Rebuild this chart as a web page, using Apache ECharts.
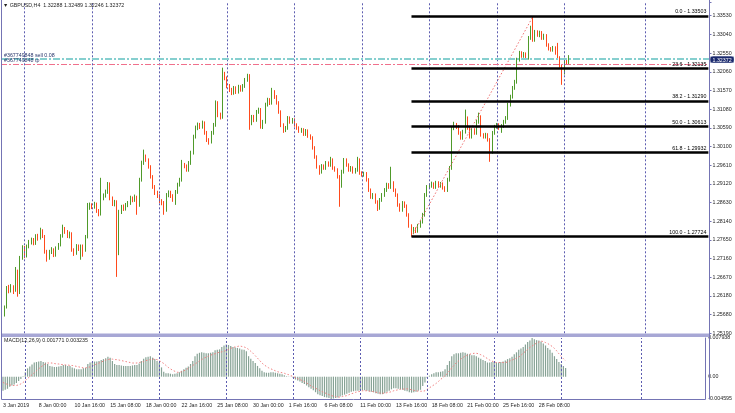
<!DOCTYPE html>
<html><head><meta charset="utf-8">
<script src="https://cdn.jsdelivr.net/npm/echarts@6/dist/echarts.min.js"></script>
<style>html,body{margin:0;padding:0;background:#fff}#c{width:735px;height:413px}</style>
</head><body><div id="c"></div>
<script>
// ---------- data (GBPUSD H4) ----------
const dateLabels = ['3 Jan 2019','8 Jan 00:00','10 Jan 16:00','15 Jan 08:00','18 Jan 00:00','22 Jan 16:00','25 Jan 08:00','30 Jan 00:00','1 Feb 16:00','6 Feb 08:00','11 Feb 00:00','13 Feb 16:00','18 Feb 08:00','21 Feb 00:00','25 Feb 16:00','28 Feb 08:00'];

const opens = [1.2546,1.2567,1.2588,1.2638,1.2630,1.2640,1.2633,1.2680,1.2628,1.2717,
1.2743,1.2722,1.2748,1.2759,1.2764,1.2756,1.2774,1.2769,1.2788,1.2774,
1.2733,1.2717,1.2733,1.2738,1.2725,1.2743,1.2751,1.2774,1.2793,1.2785,
1.2774,1.2780,1.2738,1.2730,1.2748,1.2741,1.2748,1.2738,1.2772,1.2851,
1.2856,1.2851,1.2859,1.2840,1.2832,1.2874,1.2880,1.2890,1.2911,1.2874,
1.2859,1.2864,1.2730,1.2838,1.2851,1.2846,1.2856,1.2861,1.2874,1.2869,
1.2877,1.2856,1.2922,1.2966,1.2982,1.2974,1.2956,1.2930,1.2903,1.2888,
1.2880,1.2867,1.2861,1.2843,1.2882,1.2888,1.2880,1.2869,1.2890,1.2909,
1.2922,1.2961,1.2958,1.2948,1.2966,1.2993,1.3035,1.3058,1.3066,1.3061,
1.3071,1.3045,1.3027,1.3022,1.3045,1.3066,1.3124,1.3092,1.3087,1.3197,
1.3189,1.3168,1.3158,1.3150,1.3163,1.3153,1.3166,1.3158,1.3168,1.3184,
1.3195,1.3071,1.3087,1.3079,1.3100,1.3106,1.3061,1.3074,1.3119,1.3132,
1.3124,1.3153,1.3140,1.3124,1.3100,1.3066,1.3053,1.3058,1.3084,1.3074,
1.3079,1.3066,1.3058,1.3050,1.3053,1.3042,1.3050,1.3037,1.3032,1.3006,
1.2982,1.2956,1.2943,1.2958,1.2953,1.2966,1.2961,1.2974,1.2953,1.2948,
1.2930,1.2906,1.2943,1.2974,1.2961,1.2948,1.2953,1.2943,1.2948,1.2974,
1.2940,1.2935,1.2938,1.2922,1.2895,1.2877,1.2882,1.2864,1.2848,1.2869,
1.2882,1.2895,1.2909,1.2903,1.2914,1.2895,1.2882,1.2856,1.2843,1.2861,
1.2853,1.2830,1.2801,1.2785,1.2793,1.2788,1.2801,1.2812,1.2830,1.2882,
1.2903,1.2906,1.2911,1.2903,1.2914,1.2906,1.2911,1.2901,1.2895,1.2922,
1.2953,1.3058,1.3066,1.3061,1.3045,1.3032,1.3048,1.3084,1.3058,1.3035,
1.3053,1.3045,1.3074,1.3087,1.3040,1.3035,1.3040,1.3027,1.2995,1.3045,
1.3061,1.3066,1.3058,1.3063,1.3074,1.3084,1.3119,1.3140,1.3163,1.3179,
1.3237,1.3255,1.3247,1.3252,1.3242,1.3294,1.3321,1.3289,1.3310,1.3302,
1.3308,1.3294,1.3300,1.3276,1.3266,1.3263,1.3268,1.3255,1.3242,1.3221,
1.3203,1.3237,1.32288];

const closes = [1.2567,1.2588,1.2638,1.2630,1.2640,1.2633,1.2680,1.2628,1.2717,1.2743,
1.2722,1.2748,1.2759,1.2764,1.2756,1.2774,1.2769,1.2788,1.2774,1.2733,
1.2717,1.2733,1.2738,1.2725,1.2743,1.2751,1.2774,1.2793,1.2785,1.2774,
1.2780,1.2738,1.2730,1.2748,1.2741,1.2748,1.2738,1.2772,1.2851,1.2856,
1.2851,1.2859,1.2840,1.2832,1.2874,1.2880,1.2890,1.2911,1.2874,1.2859,
1.2864,1.2730,1.2838,1.2851,1.2846,1.2856,1.2861,1.2874,1.2869,1.2877,
1.2856,1.2922,1.2966,1.2982,1.2974,1.2956,1.2930,1.2903,1.2888,1.2880,
1.2867,1.2861,1.2843,1.2882,1.2888,1.2880,1.2869,1.2890,1.2909,1.2922,
1.2961,1.2958,1.2948,1.2966,1.2993,1.3035,1.3058,1.3066,1.3061,1.3071,
1.3045,1.3027,1.3022,1.3045,1.3066,1.3124,1.3092,1.3087,1.3197,1.3189,
1.3168,1.3158,1.3150,1.3163,1.3153,1.3166,1.3158,1.3168,1.3184,1.3195,
1.3071,1.3087,1.3079,1.3100,1.3106,1.3061,1.3074,1.3119,1.3132,1.3124,
1.3153,1.3140,1.3124,1.3100,1.3066,1.3053,1.3058,1.3084,1.3074,1.3079,
1.3066,1.3058,1.3050,1.3053,1.3042,1.3050,1.3037,1.3032,1.3006,1.2982,
1.2956,1.2943,1.2958,1.2953,1.2966,1.2961,1.2974,1.2953,1.2948,1.2930,
1.2906,1.2943,1.2974,1.2961,1.2948,1.2953,1.2943,1.2948,1.2974,1.2940,
1.2935,1.2938,1.2922,1.2895,1.2877,1.2882,1.2864,1.2848,1.2869,1.2882,
1.2895,1.2909,1.2903,1.2914,1.2895,1.2882,1.2856,1.2843,1.2861,1.2853,
1.2830,1.2801,1.2785,1.2793,1.2788,1.2801,1.2812,1.2830,1.2882,1.2903,
1.2906,1.2911,1.2903,1.2914,1.2906,1.2911,1.2901,1.2895,1.2922,1.2953,
1.3058,1.3066,1.3061,1.3045,1.3032,1.3048,1.3084,1.3058,1.3035,1.3053,
1.3045,1.3074,1.3087,1.3040,1.3035,1.3040,1.3027,1.2995,1.3045,1.3061,
1.3066,1.3058,1.3063,1.3074,1.3084,1.3119,1.3140,1.3163,1.3179,1.3237,
1.3255,1.3247,1.3252,1.3242,1.3294,1.3321,1.3289,1.3310,1.3302,1.3308,
1.3294,1.3300,1.3276,1.3266,1.3263,1.3268,1.3255,1.3242,1.3221,1.3203,
1.3237,1.3229,1.32372];

const highs = [1.2575,1.2592,1.2643,1.2646,1.2648,1.2645,1.2693,1.2686,1.2722,1.2750,
1.2748,1.2752,1.2764,1.2770,1.2769,1.2779,1.2780,1.2796,1.2792,1.2777,
1.2738,1.2738,1.2745,1.2742,1.2747,1.2756,1.2779,1.2804,1.2798,1.2790,
1.2786,1.2784,1.2742,1.2753,1.2752,1.2752,1.2752,1.2777,1.2861,1.2862,
1.2860,1.2864,1.2862,1.2845,1.2927,1.2886,1.2896,1.2916,1.2915,1.2878,
1.2869,1.2868,1.2843,1.2856,1.2857,1.2861,1.2866,1.2880,1.2878,1.2883,
1.2880,1.2927,1.2972,1.3001,1.2988,1.2978,1.2960,1.2934,1.2908,1.2893,
1.2884,1.2871,1.2866,1.2887,1.2894,1.2893,1.2884,1.2895,1.2914,1.2927,
1.2974,1.2966,1.2962,1.2971,1.2998,1.3040,1.3064,1.3072,1.3071,1.3077,
1.3075,1.3050,1.3031,1.3050,1.3071,1.3130,1.3128,1.3098,1.3216,1.3205,
1.3193,1.3173,1.3163,1.3168,1.3167,1.3171,1.3170,1.3173,1.3189,1.3200,
1.3199,1.3092,1.3092,1.3105,1.3111,1.3110,1.3079,1.3124,1.3137,1.3136,
1.3163,1.3157,1.3144,1.3128,1.3104,1.3070,1.3063,1.3089,1.3088,1.3084,
1.3083,1.3070,1.3062,1.3058,1.3057,1.3055,1.3054,1.3041,1.3036,1.3010,
1.2986,1.2960,1.2963,1.2962,1.2971,1.2970,1.2982,1.2978,1.2957,1.2952,
1.2934,1.2948,1.2979,1.2978,1.2965,1.2958,1.2957,1.2953,1.2982,1.2978,
1.2944,1.2943,1.2942,1.2926,1.2899,1.2887,1.2886,1.2868,1.2874,1.2887,
1.2900,1.2914,1.2913,1.2956,1.2918,1.2899,1.2886,1.2860,1.2866,1.2865,
1.2857,1.2834,1.2805,1.2798,1.2797,1.2806,1.2817,1.2835,1.2887,1.2908,
1.2912,1.2917,1.2915,1.2919,1.2918,1.2916,1.2915,1.2905,1.2927,1.2958,
1.3063,1.3074,1.3071,1.3065,1.3049,1.3053,1.3106,1.3088,1.3062,1.3058,
1.3057,1.3079,1.3098,1.3091,1.3044,1.3045,1.3044,1.3031,1.3050,1.3066,
1.3071,1.3070,1.3068,1.3079,1.3089,1.3124,1.3145,1.3168,1.3184,1.3242,
1.3260,1.3259,1.3257,1.3256,1.3299,1.3326,1.33503,1.3315,1.3314,1.3313,
1.3312,1.3305,1.3304,1.3280,1.3270,1.3273,1.3272,1.3281,1.3246,1.3225,
1.3242,1.3241,1.32489];

const lows = [1.2536,1.2563,1.2584,1.2624,1.2626,1.2622,1.2628,1.2615,1.2622,1.2712,
1.2716,1.2718,1.2742,1.2752,1.2750,1.2751,1.2762,1.2765,1.2769,1.2728,
1.2707,1.2712,1.2727,1.2719,1.2720,1.2738,1.2747,1.2770,1.2780,1.2769,
1.2768,1.2733,1.2722,1.2725,1.2735,1.2712,1.2720,1.2733,1.2768,1.2843,
1.2845,1.2846,1.2835,1.2826,1.2828,1.2868,1.2875,1.2885,1.2868,1.2853,
1.2852,1.2667,1.2724,1.2832,1.2840,1.2841,1.2850,1.2856,1.2863,1.2864,
1.2830,1.2851,1.2917,1.2961,1.2969,1.2951,1.2925,1.2898,1.2882,1.2874,
1.2861,1.2855,1.2830,1.2838,1.2876,1.2874,1.2864,1.2856,1.2885,1.2904,
1.2917,1.2952,1.2943,1.2943,1.2961,1.2988,1.3030,1.3052,1.3055,1.3056,
1.3040,1.3021,1.3014,1.3017,1.3040,1.3061,1.3086,1.3080,1.3082,1.3183,
1.3162,1.3152,1.3144,1.3145,1.3147,1.3148,1.3153,1.3153,1.3163,1.3179,
1.3053,1.3065,1.3073,1.3074,1.3095,1.3056,1.3055,1.3069,1.3114,1.3118,
1.3119,1.3134,1.3119,1.3095,1.3060,1.3045,1.3047,1.3053,1.3069,1.3069,
1.3061,1.3053,1.3045,1.3045,1.3037,1.3037,1.3032,1.3027,1.3001,1.2977,
1.2951,1.2935,1.2938,1.2948,1.2948,1.2956,1.2956,1.2948,1.2943,1.2925,
1.2851,1.2901,1.2938,1.2956,1.2943,1.2943,1.2938,1.2938,1.2943,1.2935,
1.2930,1.2930,1.2917,1.2890,1.2872,1.2871,1.2859,1.2840,1.2843,1.2864,
1.2877,1.2890,1.2898,1.2898,1.2890,1.2877,1.2851,1.2838,1.2838,1.2848,
1.2825,1.2796,1.27724,1.2779,1.2782,1.2783,1.2796,1.2807,1.2825,1.2877,
1.2898,1.2901,1.2898,1.2898,1.2901,1.2901,1.2896,1.2890,1.2890,1.2917,
1.2948,1.3052,1.3055,1.3040,1.3027,1.3027,1.3043,1.3053,1.3030,1.3030,
1.3040,1.3040,1.3069,1.3035,1.3030,1.3030,1.3022,1.2969,1.2990,1.3040,
1.3056,1.3053,1.3045,1.3058,1.3069,1.3079,1.3114,1.3135,1.3158,1.3174,
1.3232,1.3242,1.3242,1.3236,1.3237,1.3289,1.3284,1.3284,1.3297,1.3296,
1.3289,1.3289,1.3271,1.3261,1.3258,1.3258,1.3250,1.3237,1.3216,1.3171,
1.3198,1.3224,1.32246];

const macdMain = [-0.0029,-0.0027,-0.0025,-0.0021,-0.0018,-0.0016,-0.0013,-0.0009,-0.0005,0.0001,
0.0009,0.0017,0.0021,0.0025,0.0029,0.0030,0.0031,0.0032,0.0030,0.0029,
0.0026,0.0022,0.0021,0.0020,0.0020,0.0021,0.0022,0.0024,0.0024,0.0022,
0.0022,0.0019,0.0017,0.0015,0.0015,0.0015,0.0017,0.0018,0.0026,0.0029,
0.0030,0.0031,0.0031,0.0032,0.0034,0.0036,0.0038,0.0041,0.0039,0.0032,
0.0026,0.0024,0.0024,0.0023,0.0022,0.0022,0.0022,0.0022,0.0023,0.0024,
0.0024,0.0027,0.0032,0.0037,0.0040,0.0041,0.0042,0.0039,0.0036,0.0032,
0.0029,0.0019,0.0010,0.0007,0.0007,0.0006,0.0005,0.0006,0.0007,0.0009,
0.0012,0.0015,0.0018,0.0021,0.0026,0.0032,0.0042,0.0047,0.0049,0.0050,
0.0049,0.0048,0.0048,0.0049,0.0050,0.0054,0.0055,0.0056,0.0061,0.0064,
0.0066,0.0065,0.0063,0.0061,0.0060,0.0059,0.0058,0.0056,0.0055,0.0052,
0.0042,0.0037,0.0032,0.0028,0.0022,0.0017,0.0012,0.0009,0.0008,0.0008,
0.0009,0.0009,0.0008,0.0007,0.0006,0.0005,0.0003,0.0001,-0.0001,-0.0001,
-0.0003,-0.0006,-0.0008,-0.0010,-0.0013,-0.0015,-0.0018,-0.0022,-0.0025,-0.0028,
-0.0032,-0.0036,-0.0038,-0.0040,-0.0042,-0.0043,-0.0044,-0.004595,-0.0045,-0.0044,
-0.0043,-0.0041,-0.0039,-0.0037,-0.0035,-0.0033,-0.0031,-0.0030,-0.0029,-0.0029,
-0.0028,-0.0028,-0.0028,-0.0029,-0.0030,-0.0031,-0.0032,-0.0034,-0.0035,-0.0036,
-0.0036,-0.0034,-0.0031,-0.0029,-0.0026,-0.0024,-0.0024,-0.0025,-0.0026,-0.0027,
-0.0029,-0.0030,-0.0032,-0.0033,-0.0032,-0.0031,-0.0029,-0.0027,-0.0019,-0.0012,
-0.0003,0.0002,0.0005,0.0007,0.0009,0.0009,0.0010,0.0011,0.0015,0.0024,
0.0032,0.0042,0.0046,0.0048,0.0048,0.0049,0.0050,0.0049,0.0047,0.0046,
0.0044,0.0044,0.0042,0.0039,0.0037,0.0034,0.0032,0.0029,0.0029,0.0030,
0.0030,0.0029,0.0029,0.0030,0.0031,0.0033,0.0036,0.0038,0.0041,0.0046,
0.0050,0.0055,0.0058,0.0061,0.0066,0.0071,0.0074,0.007938,0.0077,0.0075,
0.0074,0.0072,0.0068,0.0064,0.0059,0.0055,0.0049,0.0042,0.0036,0.0030,
0.0026,0.0022,0.001771];

const macdSignal = [-0.0012,-0.0014,-0.0016,-0.0017,-0.0018,-0.0018,-0.0018,-0.0017,-0.0015,-0.0012,
-0.0008,-0.0004,0.0000,0.0004,0.0008,0.0012,0.0016,0.0020,0.0023,0.0026,
0.0028,0.0028,0.0028,0.0027,0.0026,0.0026,0.0025,0.0025,0.0024,0.0024,
0.0023,0.0023,0.0022,0.0021,0.0020,0.0019,0.0018,0.0018,0.0019,0.0020,
0.0022,0.0024,0.0026,0.0028,0.0030,0.0032,0.0034,0.0035,0.0036,0.0036,
0.0035,0.0035,0.0034,0.0033,0.0032,0.0031,0.0030,0.0029,0.0028,0.0028,
0.0028,0.0029,0.0030,0.0031,0.0033,0.0034,0.0035,0.0036,0.0036,0.0035,
0.0033,0.0030,0.0027,0.0023,0.0019,0.0016,0.0013,0.0011,0.0009,0.0009,
0.0010,0.0012,0.0014,0.0017,0.0020,0.0023,0.0026,0.0029,0.0032,0.0035,
0.0038,0.0040,0.0042,0.0044,0.0046,0.0047,0.0049,0.0050,0.0051,0.0052,
0.0054,0.0056,0.0058,0.0060,0.0061,0.0062,0.0063,0.0062,0.0061,0.0059,
0.0056,0.0052,0.0048,0.0043,0.0038,0.0033,0.0028,0.0024,0.0021,0.0018,
0.0016,0.0014,0.0012,0.0010,0.0009,0.0008,0.0007,0.0005,0.0004,0.0002,
0.0000,-0.0002,-0.0004,-0.0006,-0.0008,-0.0010,-0.0013,-0.0016,-0.0019,-0.0022,
-0.0024,-0.0026,-0.0029,-0.0031,-0.0033,-0.0035,-0.0037,-0.0039,-0.0040,-0.0041,
-0.0042,-0.0042,-0.0041,-0.0040,-0.0039,-0.0037,-0.0035,-0.0034,-0.0032,-0.0031,
-0.0030,-0.0029,-0.0029,-0.0029,-0.0030,-0.0030,-0.0031,-0.0032,-0.0033,-0.0034,
-0.0034,-0.0034,-0.0033,-0.0032,-0.0031,-0.0029,-0.0028,-0.0027,-0.0026,-0.0026,
-0.0025,-0.0025,-0.0026,-0.0027,-0.0028,-0.0029,-0.0030,-0.0030,-0.0030,-0.0029,
-0.0026,-0.0023,-0.0020,-0.0017,-0.0014,-0.0010,-0.0006,-0.0002,0.0002,0.0006,
0.0012,0.0018,0.0023,0.0028,0.0032,0.0036,0.0039,0.0042,0.0044,0.0046,
0.0047,0.0048,0.0048,0.0047,0.0045,0.0043,0.0040,0.0037,0.0034,0.0032,
0.0030,0.0029,0.0029,0.0029,0.0029,0.0029,0.0030,0.0032,0.0034,0.0036,
0.0038,0.0040,0.0044,0.0048,0.0052,0.0056,0.0060,0.0063,0.0066,0.0069,
0.0071,0.0073,0.0072,0.0070,0.0068,0.0065,0.0062,0.0058,0.0053,0.0047,
0.0042,0.0037,0.003235];

const priceTickLabels = ['1.25190','1.25680','1.26180','1.26670','1.27160','1.27650','1.28140','1.28630','1.29120','1.29610','1.30100','1.30590','1.31080','1.31570','1.32060','1.32550','1.33040','1.33530'];
const macdTickLabels = ['0.007938','0.00','-0.004595'];
const fibRatios = ['0.0','23.6','38.2','50.0','61.8','100.0'];
const fibPrices = [1.33503,1.32135,1.31290,1.30613,1.29932,1.27724];
const fibAnchorIdx = [182, 236];
const weekSeparators = [10,40,70,100,130,160,190,220,250,286];
const orderPrices = [1.3240, 1.3226];
const orderLabels = ['#367749848 sell 0.08', '#367749848 tp'];
const lastPrice = 1.32372;

// ---------- layout / scale settings ----------
const N_SLOTS = 315;
const Y_MIN = 1.2519, Y_STEP = 0.004902, Y_MAX = 1.33883;
const M_MIN = -0.004595, M_MAX = 0.007938;
const FONT = 'Liberation Sans';
const FS = 5.3;
const TXT = '#1e1e1e';
const FRAME = '#7474b4';
const GRIDC = '#5c5cb0';
const UP = '#4f9a2a', DOWN = '#ff4a1c';

const categories = Array.from({length: N_SLOTS}, (_, i) => String(i));
const candles = opens.map((o, i) => [o, closes[i], lows[i], highs[i]]);
const last = closes.length - 1;
const f5 = v => v.toFixed(5);
const titleText = '\u25BC GBPUSD,H4  ' + [opens[last], highs[last], lows[last], closes[last]].map(f5).join(' ');
const macdText = 'MACD(12,26,9) ' + macdMain[last].toFixed(6) + ' ' + macdSignal[last].toFixed(6);

const sepLines = weekSeparators.map(i => ({xAxis: i, lineStyle: {color: GRIDC, type: [2, 2], width: 1}, label: {show: false}}));
const mainMarks = sepLines.concat([
  {yAxis: orderPrices[0], lineStyle: {color: '#86cfcf', width: 2, type: [7, 2, 2, 2]},
   label: {show: true, position: 'insideStartTop', formatter: orderLabels[0], fontSize: FS, color: '#26346a', distance: [3, 0.5]}},
  {yAxis: orderPrices[1], lineStyle: {color: '#f0708c', width: 1, type: [6, 2, 2, 2]},
   label: {show: true, position: 'insideStartTop', formatter: orderLabels[1], fontSize: FS, color: '#26346a', distance: [3, 0.5]}}
]);

const chart = echarts.init(document.getElementById('c'), null, {renderer: 'canvas', width: 735, height: 413});
chart.setOption({
  animation: false,
  backgroundColor: '#ffffff',
  textStyle: {fontFamily: FONT},
  grid: [
    {left: 1, right: 25.5, top: 2, bottom: 79.7},
    {left: 1, right: 25.5, top: 338, bottom: 14}
  ],
  xAxis: [
    {gridIndex: 0, type: 'category', data: categories, boundaryGap: true,
     axisLine: {show: false, onZero: false}, axisTick: {show: false}, axisLabel: {show: false}, splitLine: {show: false}},
    {gridIndex: 1, type: 'category', data: categories, boundaryGap: true,
     axisLine: {show: true, onZero: false, lineStyle: {color: FRAME}}, axisTick: {show: false},
     axisLabel: {show: true, interval: (idx) => idx % 16 === 0, align: 'left', margin: 4,
       fontSize: FS, color: TXT, fontFamily: FONT,
       formatter: (v, idx) => (idx % 16 === 0 && dateLabels[idx / 16]) ? dateLabels[idx / 16] : ''},
     splitLine: {show: false}}
  ],
  yAxis: [
    {gridIndex: 0, type: 'value', position: 'right', min: Y_MIN, max: Y_MAX, interval: Y_STEP,
     axisLine: {show: true, lineStyle: {color: FRAME}}, axisTick: {show: true, length: 2, lineStyle: {color: FRAME}},
     splitLine: {show: false},
     axisPointer: {show: true, value: lastPrice, status: 'show', type: 'none', triggerTooltip: false,
       label: {show: true, formatter: () => f5(lastPrice), fontSize: FS, fontFamily: FONT, color: '#ffffff',
               backgroundColor: '#1b2a6e', padding: [1, 2, 0, 2], margin: 1}},
     axisLabel: {fontSize: FS, color: TXT, margin: 3, fontFamily: FONT,
       formatter: v => { const k = Math.round((v - Y_MIN) / Y_STEP); return (Math.abs(v - (Y_MIN + k * Y_STEP)) < 1e-6 && priceTickLabels[k]) ? priceTickLabels[k] : ''; }}},
    {gridIndex: 1, type: 'value', position: 'right', min: M_MIN, max: M_MAX, interval: -M_MIN,
     axisLine: {show: true, lineStyle: {color: FRAME}}, axisTick: {show: false},
     splitLine: {show: false},
     axisLabel: {fontSize: FS, color: TXT, margin: 3, fontFamily: FONT,
       formatter: v => { if (Math.abs(v - M_MAX) < 1e-7) return macdTickLabels[0]; if (Math.abs(v) < 1e-7) return macdTickLabels[1]; if (Math.abs(v - M_MIN) < 1e-7) return macdTickLabels[2]; return ''; }}}
  ],
  series: [
    {type: 'line', name: 'marks0', xAxisIndex: 0, yAxisIndex: 0, data: [], z: 1, silent: true,
     markLine: {silent: true, precision: 6, symbol: ['none', 'none'], label: {show: false}, data: mainMarks}},
    {type: 'line', name: 'sep1', xAxisIndex: 1, yAxisIndex: 1, data: [], z: 1, silent: true,
     markLine: {silent: true, precision: 6, symbol: ['none', 'none'], label: {show: false}, data: sepLines}},
    {type: 'candlestick', name: 'GBPUSD', xAxisIndex: 0, yAxisIndex: 0, data: candles, z: 2,
     barWidth: 1.2,
     itemStyle: {color: UP, color0: DOWN, borderColor: UP, borderColor0: DOWN, borderWidth: 1}},
    {type: 'line', name: 'Fibo', xAxisIndex: 0, yAxisIndex: 0, z: 3, silent: true,
     data: [[fibAnchorIdx[0], fibPrices[5]], [fibAnchorIdx[1], fibPrices[0]]],
     symbol: 'none', lineStyle: {color: '#f07070', type: [1.5, 2], width: 1},
     markLine: {silent: true, precision: 6, symbol: ['none', 'none'], lineStyle: {color: '#000000', width: 2.5, type: 'solid'},
       label: {show: true, position: 'insideEndTop', formatter: '{b}', fontSize: FS, color: '#000000', distance: [2, 2]},
       data: fibPrices.map((p, k) => [
         {name: fibRatios[k] + ' - ' + f5(p), coord: [fibAnchorIdx[0], p]},
         {coord: [N_SLOTS - 1, p]}
       ])}},
    {type: 'line', name: 'LastPrice', xAxisIndex: 0, yAxisIndex: 0, z: 4, silent: true, data: [],
     markLine: {silent: true, precision: 6, symbol: ['none', 'none'],
       lineStyle: {color: 'rgba(255,255,255,0)', width: 1, type: 'solid'},
       label: {show: true, position: 'end', formatter: () => f5(lastPrice), fontSize: FS, color: '#ffffff',
               backgroundColor: '#1b2a6e', padding: [1, 2, 0, 2], distance: 1},
       data: [{yAxis: lastPrice}]}},
    {type: 'bar', name: 'MACD', xAxisIndex: 1, yAxisIndex: 1, data: macdMain, barWidth: 1.2, z: 2,
     itemStyle: {color: '#86a294'}},
    {type: 'line', name: 'Signal', xAxisIndex: 1, yAxisIndex: 1, data: macdSignal, z: 3,
     symbol: 'none', lineStyle: {color: '#f08080', type: [1.5, 2], width: 1}}
  ],
  graphic: [
    {type: 'rect', shape: {x: 1, y: 333.5, width: 709, height: 3.5}, style: {fill: '#a7a7d5'}, silent: true, z: 100},
    {type: 'line', shape: {x1: 1.5, y1: 0, x2: 1.5, y2: 399.5}, style: {stroke: FRAME, lineWidth: 1}, silent: true, z: 100},
    {type: 'line', shape: {x1: 709.5, y1: 0, x2: 709.5, y2: 399.5}, style: {stroke: FRAME, lineWidth: 1}, silent: true, z: 100},
    {type: 'text', x: 3, y: 3, style: {text: titleText, fontSize: FS, fontFamily: FONT, fill: TXT}, silent: true, z: 100},
    {type: 'text', x: 4, y: 338.5, style: {text: macdText, fontSize: FS, fontFamily: FONT, fill: TXT}, silent: true, z: 100}
  ]
});
</script>
</body></html>
